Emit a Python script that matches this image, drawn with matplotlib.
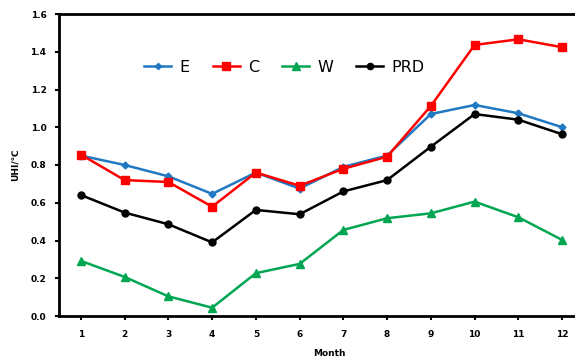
import matplotlib
matplotlib.use("Agg")
import matplotlib.pyplot as plt

months = [1, 2, 3, 4, 5, 6, 7, 8, 9, 10, 11, 12]
month_labels = ["1", "2", "3", "4", "5", "6", "7", "8", "9", "10", "11", "12"]
E = [0.85, 0.80, 0.74, 0.647, 0.76, 0.675, 0.79, 0.85, 1.07, 1.118, 1.074, 1.00]
C = [0.855, 0.72, 0.71, 0.579, 0.76, 0.69, 0.78, 0.844, 1.113, 1.436, 1.466, 1.424]
W = [0.292, 0.207, 0.104, 0.044, 0.227, 0.276, 0.456, 0.518, 0.544, 0.606, 0.523, 0.403]
PRD = [0.641, 0.548, 0.486, 0.39, 0.562, 0.539, 0.66, 0.72, 0.897, 1.07, 1.04, 0.963]
yticks = [0.0, 0.2, 0.4, 0.6, 0.8, 1.0, 1.2, 1.4, 1.6]

fig = plt.figure(figsize=(5.75, 3.63), dpi=100)
ax = fig.add_axes([59/575, 47/363, 525/575, 302/363])

ax.plot(months, E, color="#1F78C1", lw=1.8, marker="D", ms=3.5, label="E")
ax.plot(months, C, color="#FF0000", lw=1.8, marker="s", ms=6, label="C")
ax.plot(months, W, color="#00A651", lw=1.8, marker="^", ms=6, label="W")
ax.plot(months, PRD, color="black", lw=1.8, marker="o", ms=5, label="PRD")

ax.set_xlim(0.5, 12.5)
ax.set_ylim(0, 1.6)
ax.set_xticks(months)
ax.set_xticklabels(month_labels, fontsize=6.5, fontweight="bold")
ax.set_yticks(yticks)
ax.set_yticklabels([f"{v:.1f}" for v in yticks], fontsize=6.5, fontweight="bold")
ax.tick_params(axis="both", direction="out", length=3, width=1.5)
ax.tick_params(axis="x", pad=7)
ax.tick_params(axis="y", pad=6)
for s in ["left", "bottom", "top"]:
    ax.spines[s].set_linewidth(2)
ax.spines["right"].set_visible(False)

ax.set_xlabel("Month", fontsize=6.5, fontweight="bold")
ax.xaxis.set_label_coords((329 - 59) / 525, -0.11)
ax.set_ylabel("UHI/℃", fontsize=6.5, fontweight="bold")
ax.yaxis.set_label_coords(-0.075, 0.5)

leg = ax.legend(loc="upper left", bbox_to_anchor=(0.135, 0.895), ncol=4, frameon=False,
                fontsize=11.5, handlelength=1.7, columnspacing=1.45, handletextpad=0.5,
                markerscale=0.9)

fig.savefig("out.png", dpi=100)
